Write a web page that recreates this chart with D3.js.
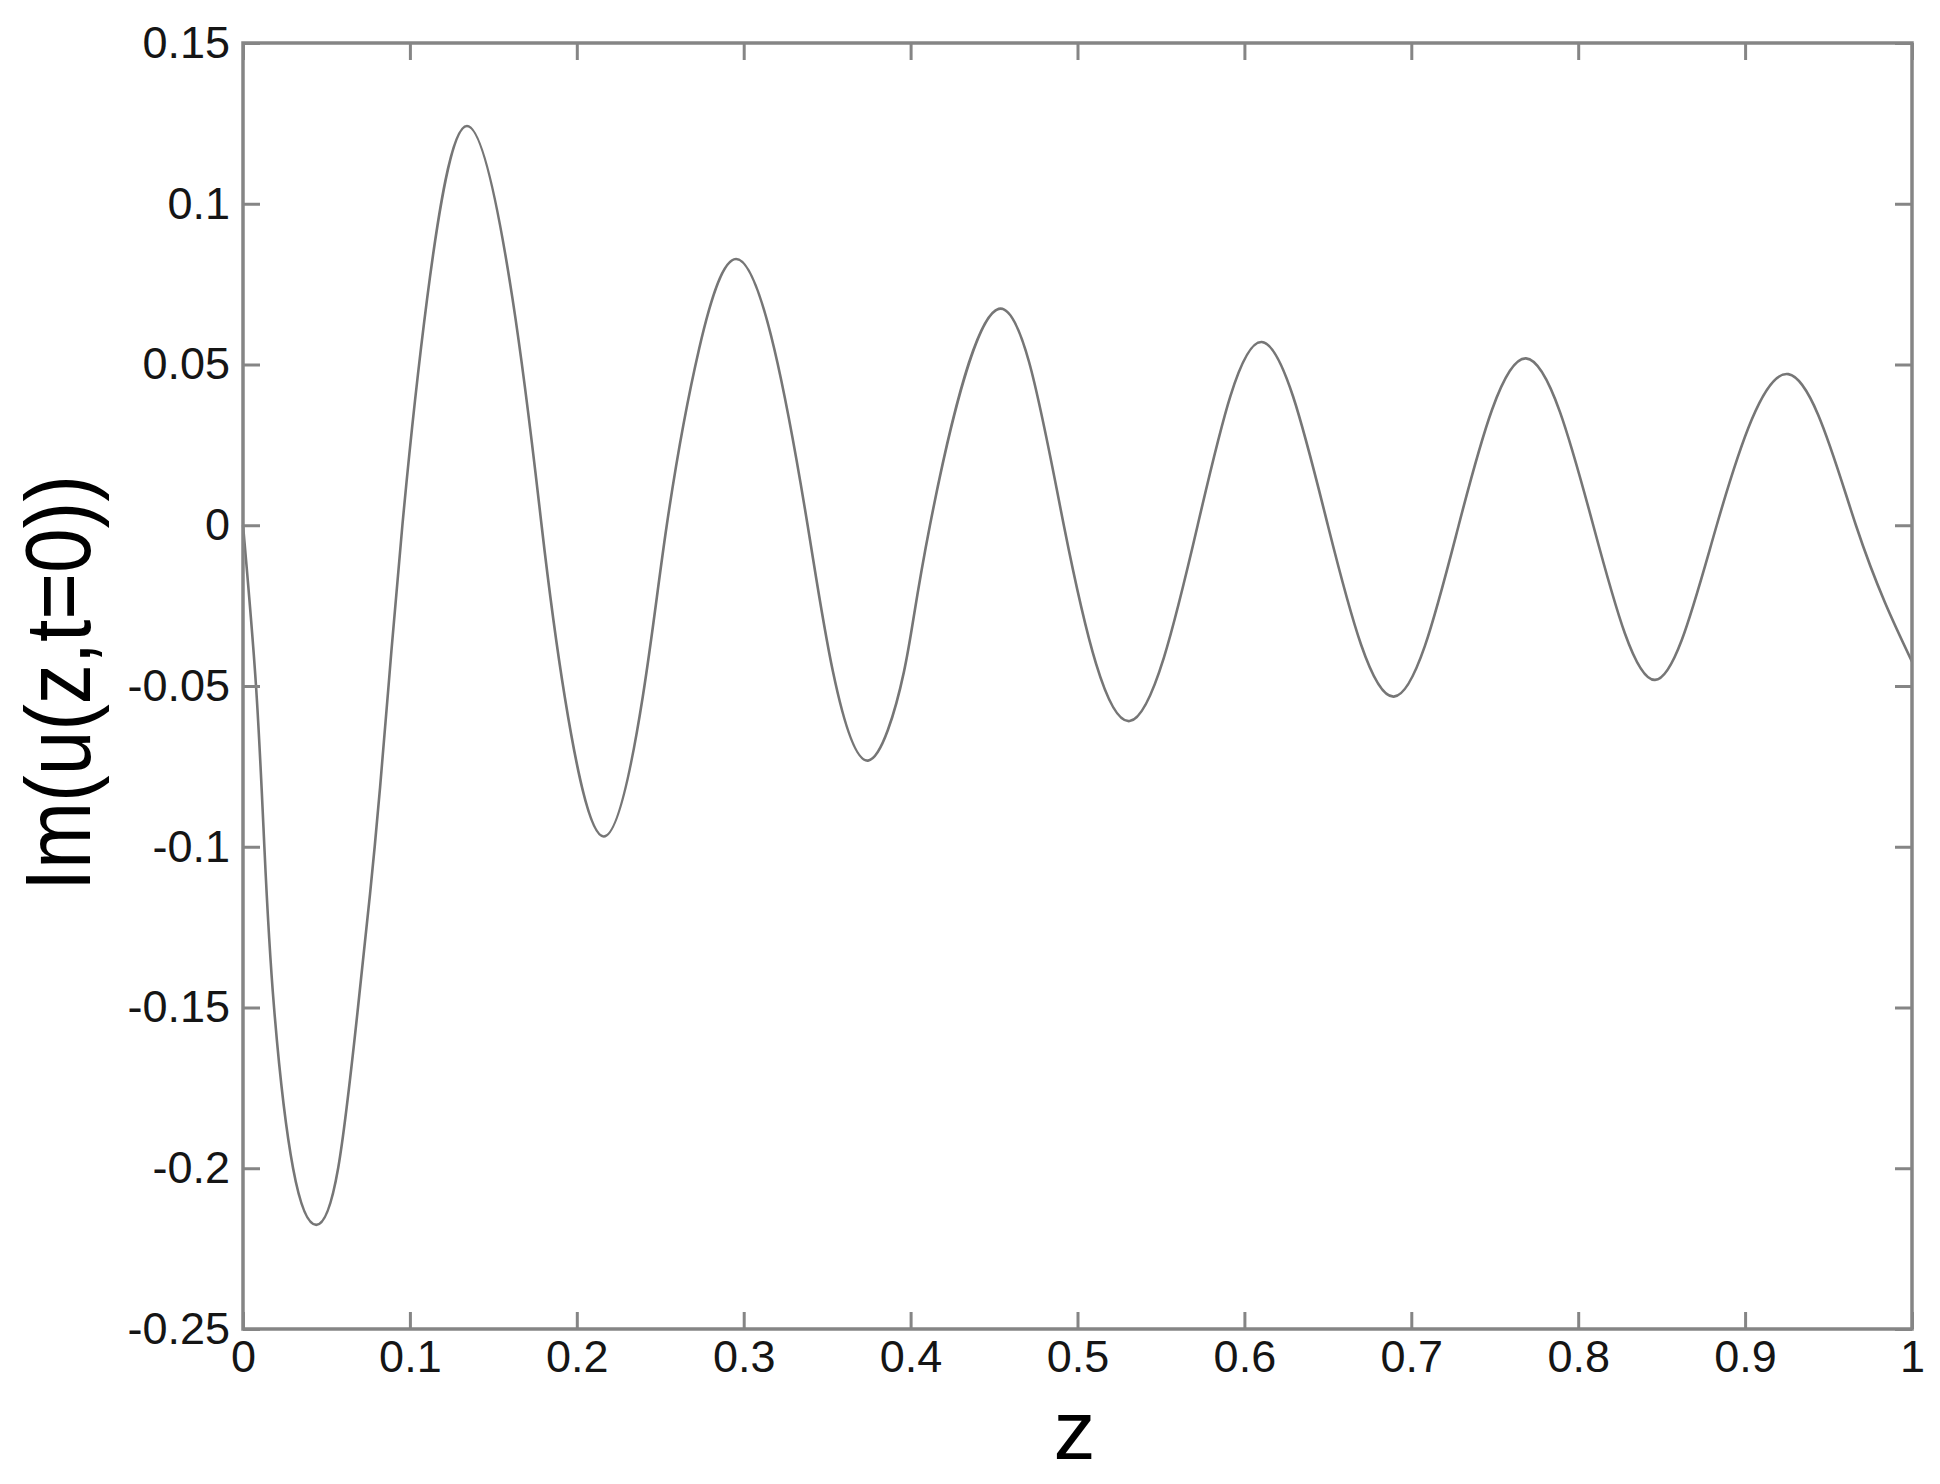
<!DOCTYPE html>
<html>
<head>
<meta charset="utf-8">
<script src="https://cdn.jsdelivr.net/npm/d3@7"></script>
<style>
  html, body { margin: 0; padding: 0; background: #fff; }
  svg { display: block; }
  text { font-family: "Liberation Sans", Arial, Helvetica, sans-serif; }
</style>
</head>
<body>
<svg id="chart" width="1940" height="1484"></svg>
<script>
// ---- data ----
const zValues = [0, 0.0078, 0.0128, 0.0186, 0.0300, 0.0439,
  0.0570, 0.0689, 0.0789, 0.0872, 0.0955,
  0.1103, 0.1342, 0.1615, 0.1789, 0.1928, 0.2161, 0.2395, 0.2539, 0.2733, 0.2954, 0.3183,
  0.3383, 0.3535, 0.3745, 0.3960, 0.4116, 0.4528, 0.4918, 0.5312, 0.5720, 0.6104, 0.6500,
  0.6895, 0.7284, 0.7687, 0.8090, 0.8460, 0.8830, 0.9259, 0.9664, 1.0];
const imValues = [0, -0.050, -0.100, -0.150, -0.200, -0.2176,
  -0.200, -0.150, -0.100, -0.050, 0,
  0.0704, 0.1242, 0.0704, 0, -0.0534, -0.0968, -0.0534, 0, 0.0549, 0.0828, 0.0549,
  0, -0.0456, -0.0732, -0.0456, 0, 0.0673, 0, -0.0609, 0, 0.0570, 0,
  -0.0533, 0, 0.0519, 0, -0.0481, 0, 0.0470, 0, -0.0424];
const xTicks = [0, 0.1, 0.2, 0.3, 0.4, 0.5, 0.6, 0.7, 0.8, 0.9, 1];
const xTickLabels = ["0", "0.1", "0.2", "0.3", "0.4", "0.5", "0.6", "0.7", "0.8", "0.9", "1"];
const yTicks = [0.15, 0.1, 0.05, 0, -0.05, -0.1, -0.15, -0.2, -0.25];
const yTickLabels = ["0.15", "0.1", "0.05", "0", "-0.05", "-0.1", "-0.15", "-0.2", "-0.25"];
const xLabel = "z";
const yLabel = "Im(u(z,t=0))";

// ---- layout ----
const mLeft = 243, mRight = 1912, mTop = 43, mBottom = 1329;
const svg = d3.select("#chart");

const x = d3.scaleLinear().domain([0, 1]).range([mLeft, mRight]);
const y = d3.scaleLinear().domain([-0.25, 0.15]).range([mBottom, mTop]);

const axisColor = "#858585";
const tickLen = 17;

// curve
const pts = zValues.map((z, i) => [z, imValues[i]]);
const line = d3.line().x(d => x(d[0])).y(d => y(d[1])).curve(d3.curveNatural);
svg.append("path")
  .attr("d", line(pts))
  .attr("fill", "none")
  .attr("stroke", "#767676")
  .attr("stroke-width", 2.6)
  .attr("stroke-linejoin", "round");

function styleAxis(g, withLabels) {
  g.select(".domain").remove();
  g.selectAll(".tick line").attr("stroke", axisColor).attr("stroke-width", 3);
  g.selectAll(".tick text")
    .attr("fill", "#151515")
    .style("font-size", "45px")
    .style("font-family", "'Liberation Sans', Arial, sans-serif");
  if (!withLabels) g.selectAll(".tick text").remove();
}

// bottom
svg.append("g").attr("transform", `translate(0,${mBottom})`)
  .call(d3.axisBottom(x).tickValues(xTicks).tickFormat((d, i) => xTickLabels[i])
    .tickSize(-tickLen).tickPadding(11))
  .call(g => styleAxis(g, true));
// top
svg.append("g").attr("transform", `translate(0,${mTop})`)
  .call(d3.axisTop(x).tickValues(xTicks).tickFormat("").tickSize(-tickLen))
  .call(g => styleAxis(g, false));
// left
svg.append("g").attr("transform", `translate(${mLeft},0)`)
  .call(d3.axisLeft(y).tickValues(yTicks).tickFormat((d, i) => yTickLabels[i])
    .tickSize(-tickLen).tickPadding(13))
  .call(g => styleAxis(g, true));
// right
svg.append("g").attr("transform", `translate(${mRight},0)`)
  .call(d3.axisRight(y).tickValues(yTicks).tickFormat("").tickSize(-tickLen))
  .call(g => styleAxis(g, false));

// frame
svg.append("rect")
  .attr("x", mLeft).attr("y", mTop)
  .attr("width", mRight - mLeft).attr("height", mBottom - mTop)
  .attr("fill", "none").attr("stroke", axisColor).attr("stroke-width", 3.5);

// axis labels
svg.append("text")
  .attr("x", (mLeft + mRight) / 2 - 3).attr("y", 1459)
  .attr("text-anchor", "middle")
  .attr("fill", "#000")
  .style("font-size", "84px")
  .text(xLabel);

svg.append("text")
  .attr("transform", "translate(90,683) rotate(-90) scale(0.87,1)")
  .attr("text-anchor", "middle")
  .attr("fill", "#000")
  .style("font-size", "92px")
  .text(yLabel);
</script>
</body>
</html>
